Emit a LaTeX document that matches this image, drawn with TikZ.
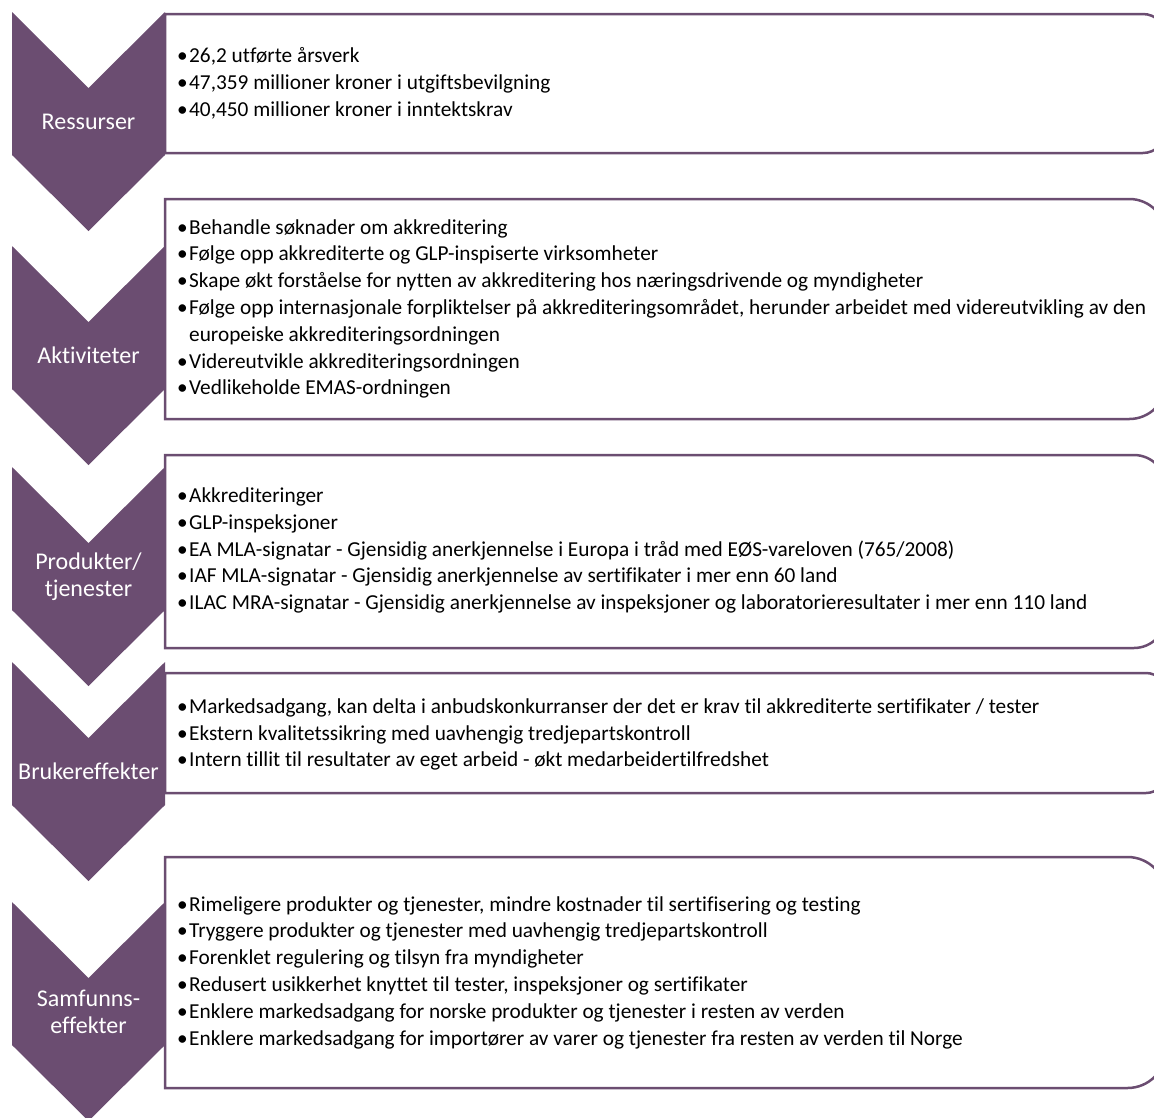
\documentclass[tikz,border=0pt]{standalone}
\usepackage{fontspec}
\setmainfont{Carlito}[Ligatures=NoCommon]
\usetikzlibrary{positioning}
\definecolor{chevpurple}{HTML}{6B4D71}
\newcommand{\bul}{\makebox[12pt][l]{•}}
\newcommand{\cnt}{\hspace*{12pt}}

\begin{document}
\begin{tikzpicture}[x=1pt,y=-1pt,
  chev/.style={fill=chevpurple},
  panel/.style={draw=chevpurple,line width=2.5pt,fill=white},
  lbl/.style={text=white,font=\fontsize{24}{27}\selectfont,align=center},
  txt/.style={anchor=west,inner sep=0pt,align=left,font=\fontsize{21.3}{26.8}\selectfont}]
\useasboundingbox (0,0) rectangle (1154,1117);
\clip (0,0) rectangle (1154,1117);
% chevrons
\foreach \t in {12,246,467,662,902}{
  \fill[chev] (12,\t) -- (88.5,\t+76) -- (165,\t) -- (165,\t+143) -- (88.5,\t+219) -- (12,\t+143) -- cycle;}
% panels, right corners rounded
\foreach \t/\b in {14/153,199/419,455/648,673/793,857/1088}{
  \pgfmathsetmacro{\r}{(\b-\t)/6}
  \draw[panel] (165,{(\t+\b)/2}) -- (165,\t) -- (600,\t) [rounded corners=\r pt] -- (1166,\t) -- (1166,\b) -- (600,\b) [sharp corners] -- (165,\b) -- cycle;}
\node[lbl] (c1) at (88.5,121.5) {Ressurser};
\node[lbl] (c2) at (88.5,355.5) {Aktiviteter};
\node[lbl] (c3) at (88.5,576.5) {Produkter/\\tjenester};
\node[lbl] (c4) at (88.5,771.5) {Brukereffekter};
\node[lbl] (c5) at (88.5,1011.5) {Samfunns-\\effekter};
\node[txt] (t1) at (177,83.5) {\bul 26,2 utførte årsverk\\
  \bul 47,359 millioner kroner i utgiftsbevilgning\\
  \bul 40,450 millioner kroner i inntektskrav};
\node[txt] (t2) at (177,309) {\bul Behandle søknader om akkreditering\\
  \bul Følge opp akkrediterte og GLP-inspiserte virksomheter\\
  \bul Skape økt forståelse for nytten av akkreditering hos næringsdrivende og myndigheter\\
  \bul Følge opp internasjonale forpliktelser på akkrediteringsområdet, herunder arbeidet med videreutvikling av den\\
  \cnt europeiske akkrediteringsordningen\\
  \bul Videreutvikle akkrediteringsordningen\\
  \bul Vedlikeholde EMAS-ordningen};
\node[txt] (t3) at (177,550.5) {\bul Akkrediteringer\\
  \bul GLP-inspeksjoner\\
  \bul EA MLA-signatar - Gjensidig anerkjennelse i Europa i tråd med EØS-vareloven (765/2008)\\
  \bul IAF MLA-signatar - Gjensidig anerkjennelse av sertifikater i mer enn 60 land\\
  \bul ILAC MRA-signatar - Gjensidig anerkjennelse av inspeksjoner og laboratorieresultater i mer enn 110 land};
\node[txt] (t4) at (177,734.5) {\bul Markedsadgang, kan delta i anbudskonkurranser der det er krav til akkrediterte sertifikater / tester\\
  \bul Ekstern kvalitetssikring med uavhengig tredjepartskontroll\\
  \bul Intern tillit til resultater av eget arbeid - økt medarbeidertilfredshet};
\node[txt] (t5) at (177,972.5) {\bul Rimeligere produkter og tjenester, mindre kostnader til sertifisering og testing\\
  \bul Tryggere produkter og tjenester med uavhengig tredjepartskontroll\\
  \bul Forenklet regulering og tilsyn fra myndigheter\\
  \bul Redusert usikkerhet knyttet til tester, inspeksjoner og sertifikater\\
  \bul Enklere markedsadgang for norske produkter og tjenester i resten av verden\\
  \bul Enklere markedsadgang for importører av varer og tjenester fra resten av verden til Norge};
\end{tikzpicture}
\end{document}
